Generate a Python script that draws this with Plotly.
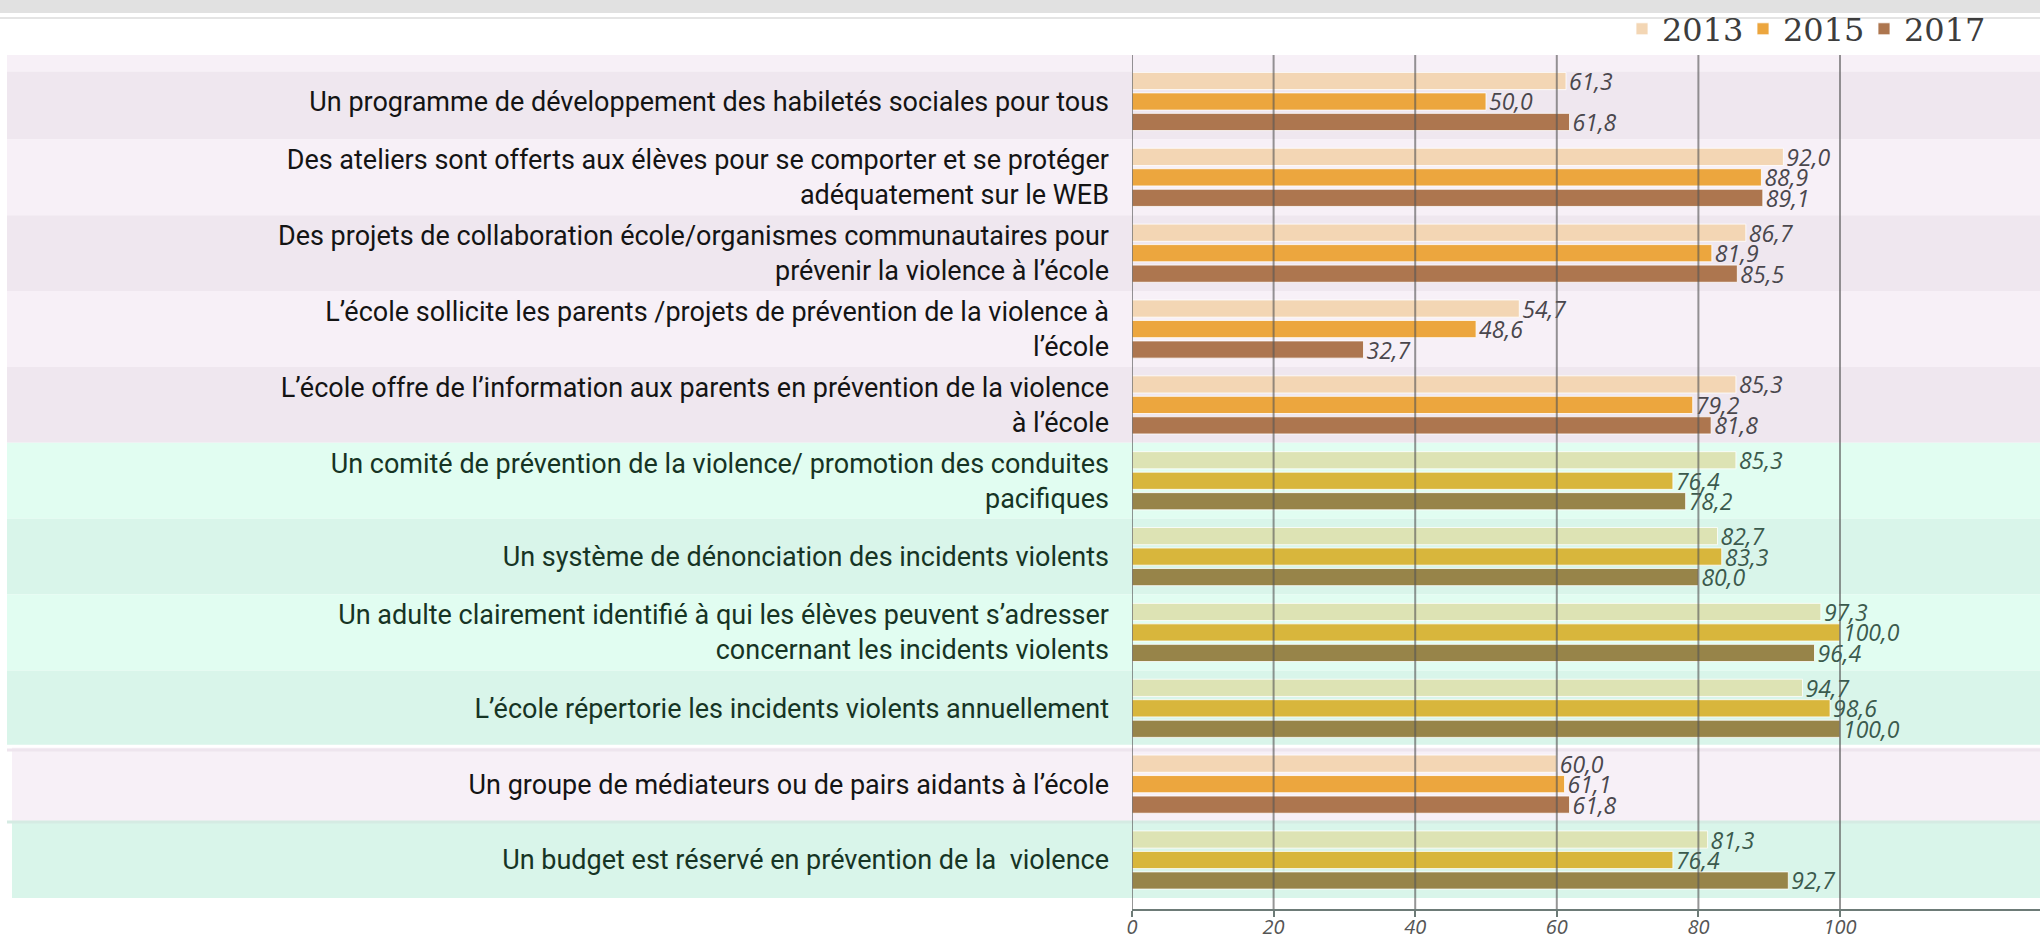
import plotly.graph_objects as go

# ---------------- data ----------------
categories = [
    "Un programme de développement des habiletés sociales pour tous",
    "Des ateliers sont offerts aux élèves pour se comporter et se protéger<br>adéquatement sur le WEB",
    "Des projets de collaboration école/organismes communautaires pour<br>prévenir la violence à l’école",
    "L’école sollicite les parents /projets de prévention de la violence à<br>l’école",
    "L’école offre de l’information aux parents en prévention de la violence<br>à l’école",
    "Un comité de prévention de la violence/ promotion des conduites<br>pacifiques",
    "Un système de dénonciation des incidents violents",
    "Un adulte clairement identifié à qui les élèves peuvent s’adresser<br>concernant les incidents violents",
    "L’école répertorie les incidents violents annuellement",
    "Un groupe de médiateurs ou de pairs aidants à l’école",
    "Un budget est réservé en prévention de la  violence",
]
v2013 = [61.3, 92.0, 86.7, 54.7, 85.3, 85.3, 82.7, 97.3, 94.7, 60.0, 81.3]
v2015 = [50.0, 88.9, 81.9, 48.6, 79.2, 76.4, 83.3, 100.0, 98.6, 61.1, 76.4]
v2017 = [61.8, 89.1, 85.5, 32.7, 81.8, 78.2, 80.0, 96.4, 100.0, 61.8, 92.7]
groups = ["p", "p", "p", "p", "p", "g", "g", "g", "g", "p", "g"]
years = ["2013", "2015", "2017"]
x_ticks = [0, 20, 40, 60, 80, 100]

# ---------------- styles ----------------
W, H = 2040, 941
L, R, T, B = 1132, 0, 55, 32
plot_w, plot_h = W - L - R, H - T - B
unit_px = 7.08
xmax = plot_w / unit_px

bar_colors = {
    "p": ["#f3d6b4", "#eca63e", "#ad764f"],
    "g": ["#dde3b4", "#d8b63c", "#978449"],
}
label_colors = {"p": "#4a474d", "g": "#3b5a4d"}
tick_colors = {"p": "#141414", "g": "#163424"}
band_colors = {
    ("p", 0): "#efe7ef", ("p", 1): "#f7f0f7",
    ("g", 0): "#d9f5ea", ("g", 1): "#e1fdf1",
}
band_shade = [0, 1, 0, 1, 0, 1, 0, 1, 0, 1, 0]


def fmt(v):
    return f"{v:.1f}".replace(".", ",")


def py(p):  # pixel row -> paper y
    return (H - B - p) / plot_h


def px(p):  # pixel column -> paper x
    return (p - L) / plot_w


n = len(categories)
y_top = -(101.5 - T) / 75.86
y_bot = (n - 1) + (H - B - 860) / 75.86

fig = go.Figure()
for k, (yr, vals) in enumerate(zip(years, [v2013, v2015, v2017])):
    fig.add_trace(go.Bar(
        name=yr,
        y=categories,
        x=vals,
        orientation="h",
        marker=dict(color=[bar_colors[g][k] for g in groups],
                    line=dict(color="rgba(255,255,255,0.8)", width=1)),
        text=[fmt(v) for v in vals],
        textposition="outside",
        constraintext="none",
        cliponaxis=False,
        textfont=dict(family="Open Sans", size=23, style="italic",
                      color=[label_colors[g] for g in groups]),
        hoverinfo="skip",
    ))

shapes = []
# top grey strip (screenshot header remnant)
shapes.append(dict(type="rect", xref="paper", yref="paper", x0=px(0), x1=px(W),
                   y0=py(13), y1=py(0), fillcolor="#c9c9c9", opacity=0.55,
                   line=dict(width=0), layer="below"))
shapes.append(dict(type="line", xref="paper", yref="paper", x0=px(0), x1=px(W),
                   y0=py(18), y1=py(18), line=dict(color="#e4e4e4", width=2),
                   layer="below"))
# top light strip
shapes.append(dict(type="rect", xref="paper", yref="y", x0=px(7), x1=1,
                   y0=y_top, y1=-0.395, fillcolor="#f7f0f7",
                   line=dict(width=0), layer="below"))
for i, g in enumerate(groups):
    y0 = -0.395 if i == 0 else i - 0.5
    y1 = i + 0.5
    x0 = px(12) if i >= 9 else px(7)
    shapes.append(dict(type="rect", xref="paper", yref="y", x0=x0, x1=1,
                       y0=y0, y1=y1, fillcolor=band_colors[(g, band_shade[i])],
                       line=dict(width=0), layer="below"))
# separators near the last two rows
for yy, col in [(8.5, "#ffffff"), (8.55, "#eee5ee"), (9.5, "#d5ebe3")]:
    shapes.append(dict(type="line", xref="paper", yref="y", x0=px(7), x1=1,
                       y0=yy, y1=yy, line=dict(color=col, width=3), layer="below"))
# vertical gridlines drawn over the bars
for t in x_ticks:
    shapes.append(dict(type="line", xref="x", yref="paper", x0=t, x1=t,
                       y0=0, y1=1, line=dict(color="rgba(85,85,85,0.62)", width=2),
                       layer="above"))

ticktext = [f'<span style="color:{tick_colors[g]}">{c}</span>'
            for c, g in zip(categories, groups)]

fig.update_layout(
    width=W, height=H,
    margin=dict(l=L, r=R, t=T, b=B, pad=0, autoexpand=False),
    paper_bgcolor="white", plot_bgcolor="rgba(0,0,0,0)",
    barmode="group", bargap=0.19, bargroupgap=0.16,
    shapes=shapes,
    showlegend=True,
    legend=dict(orientation="h", x=px(1622), xanchor="left", y=py(29),
                yanchor="middle", bgcolor="rgba(0,0,0,0)", itemwidth=30,
                entrywidth=76, entrywidthmode="pixels",
                font=dict(family="DejaVu Serif", size=32, color="#3d3d3d"),
                traceorder="normal"),
    xaxis=dict(range=[0, xmax], tickvals=x_ticks, showgrid=False, zeroline=False,
               showline=True, linecolor="#6d7b77", linewidth=2, automargin=False,
               ticks="outside", ticklen=6, tickwidth=2, tickcolor="#6d7b77",
               ticklabelstandoff=-7,
               tickfont=dict(family="Open Sans", size=20, style="italic", color="#555555")),
    yaxis=dict(type="category", categoryorder="array", categoryarray=categories,
               range=[y_bot, y_top], tickvals=categories, ticktext=ticktext,
               showgrid=False, zeroline=False, showline=False, ticks="",
               ticklabelstandoff=22, automargin=False,
               tickfont=dict(family="Roboto", size=27, color="#141414")),
)

fig.write_html("out.html")
